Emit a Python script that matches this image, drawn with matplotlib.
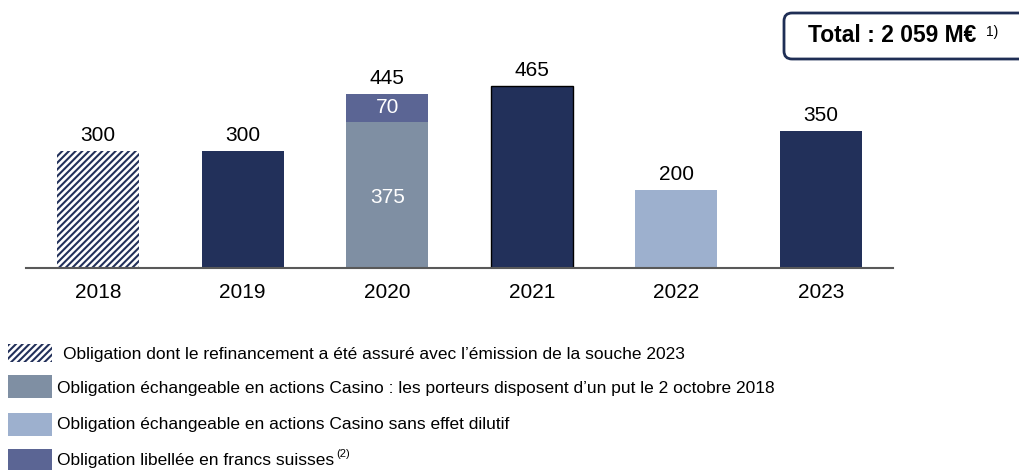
import matplotlib.pyplot as plt
from matplotlib.patches import Rectangle, FancyBboxPatch

plt.rcParams['font.family'] = ['Liberation Sans', 'DejaVu Sans']
plt.rcParams['hatch.linewidth'] = 1.5

years = ['2018', '2019', '2020', '2021', '2022', '2023']
base = [300, 300, 375, 465, 200, 350]
chf = [0, 0, 70, 0, 0, 0]
totals = [300, 300, 445, 465, 200, 350]

NAVY = '#22305A'
GREY = '#7F8FA3'
LIGHT = '#9DB0CE'
CHF = '#5B6594'

base_colors = ['white', NAVY, GREY, NAVY, LIGHT, NAVY]
base_hatch = ['/////', None, None, None, None, None]
base_edge = [NAVY, NAVY, GREY, 'black', LIGHT, NAVY]
base_lw = [0, 0, 0, 1, 0, 0]

legend_items = [
    'Obligation dont le refinancement a été assuré avec l\u2019émission de la souche 2023',
    'Obligation échangeable en actions Casino : les porteurs disposent d\u2019un put le 2 octobre 2018',
    'Obligation échangeable en actions Casino sans effet dilutif',
    'Obligation libellée en francs suisses',
]

W, H = 1020, 470
fig = plt.figure(figsize=(W / 100, H / 100), dpi=100)
ax = fig.add_axes([26 / W, (H - 268) / H, (893 - 26) / W, 203 / H])

x = range(len(years))
for i in x:
    ax.bar(i, base[i], width=0.57, color=base_colors[i], hatch=base_hatch[i],
           edgecolor=base_edge[i], linewidth=base_lw[i])
    if chf[i]:
        ax.bar(i, chf[i], bottom=base[i], width=0.57, color=CHF, linewidth=0)
        ax.text(i, base[i] + chf[i] / 2, str(chf[i]), ha='center', va='center',
                color='white', fontsize=15)
        ax.text(i, base[i] * 0.48, str(base[i]), ha='center', va='center',
                color='white', fontsize=15)
    ax.annotate(str(totals[i]), (i, totals[i]), xytext=(0, 4.5), textcoords='offset points',
                ha='center', va='bottom', fontsize=15)

ax.set_xlim(-0.5, 5.5)
ax.set_ylim(0, 520)
ax.set_xticks(list(x))
ax.set_xticklabels(years, fontsize=15)
ax.tick_params(axis='x', length=0, pad=11)
ax.set_yticks([])
for s in ['top', 'right', 'left']:
    ax.spines[s].set_visible(False)
ax.spines['bottom'].set_color('#595959')
ax.spines['bottom'].set_linewidth(1.5)

# total box (top right), in inches
box = FancyBboxPatch((7.84, (H - 59) / 100), 2.6, 0.46,
                     boxstyle='round,pad=0,rounding_size=0.08',
                     transform=fig.dpi_scale_trans, facecolor='white',
                     edgecolor='#1F2E55', linewidth=2, clip_on=False)
fig.add_artist(box)
fig.text(808 / W, (H - 36) / H, 'Total : 2 059 M\u20ac', fontsize=16.5,
         fontweight='bold', va='center', ha='left')
fig.text(986 / W, (H - 32) / H, '1)', fontsize=10, va='center', ha='left')

# legend drawn by hand
sw = [(344, 362), (375, 398), (413, 436), (449, 471)]
tx = [63, 57, 57, 57]
ty = [354, 388, 425, 460]
colors = ['white', GREY, LIGHT, CHF]
hatches = ['/////', None, None, None]
edges = [NAVY, GREY, LIGHT, CHF]
for k in range(4):
    y0, y1 = sw[k]
    r = Rectangle((8 / W, (H - y1) / H), 44 / W, (y1 - y0) / H,
                  transform=fig.transFigure, facecolor=colors[k], hatch=hatches[k],
                  linewidth=0, edgecolor=edges[k])
    fig.add_artist(r)
    fig.text(tx[k] / W, (H - ty[k]) / H, legend_items[k], fontsize=12.5, va='center', ha='left')
fig.text(336 / W, (H - ty[3] + 6) / H, '(2)', fontsize=8, va='center', ha='left')

fig.savefig('out.png', dpi=100)
